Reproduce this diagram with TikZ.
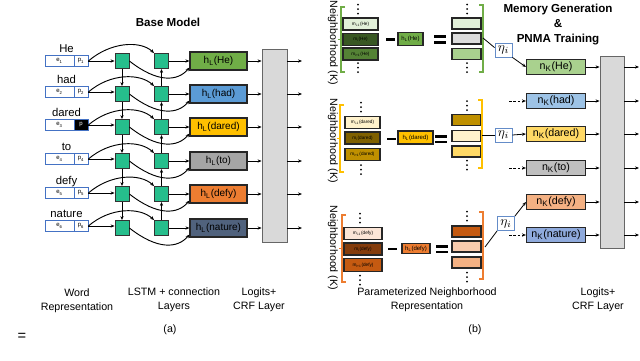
\documentclass[tikz,border=0pt]{standalone}
\usepackage{fontspec}
\setmainfont{Liberation Sans}
\usetikzlibrary{arrows.meta,calc}
\definecolor{lstm}{RGB}{38,190,140}
\definecolor{wblue}{RGB}{68,114,196}
\definecolor{hHe}{RGB}{112,173,71}
\definecolor{hHad}{RGB}{91,155,213}
\definecolor{hDared}{RGB}{255,192,0}
\definecolor{hTo}{RGB}{165,165,165}
\definecolor{hDefy}{RGB}{237,125,49}
\definecolor{hNature}{RGB}{80,98,125}
\definecolor{crfgray}{RGB}{217,217,217}
\definecolor{nHe}{RGB}{169,209,142}
\definecolor{nHad}{RGB}{157,195,230}
\definecolor{nDared}{RGB}{255,217,102}
\definecolor{nTo}{RGB}{191,191,191}
\definecolor{nDefy}{RGB}{244,177,131}
\definecolor{nNature}{RGB}{143,170,220}
\definecolor{etablue}{RGB}{100,140,200}
\definecolor{gA}{RGB}{226,240,217}
\definecolor{gB}{RGB}{56,87,35}
\definecolor{gC}{RGB}{84,130,53}
\definecolor{gR}{RGB}{220,220,220}
\definecolor{yA}{RGB}{255,242,204}
\definecolor{yB}{RGB}{127,96,0}
\definecolor{yC}{RGB}{191,144,0}
\definecolor{oA}{RGB}{251,229,214}
\definecolor{oB}{RGB}{132,60,12}
\definecolor{oC}{RGB}{197,90,17}
\definecolor{oD}{RGB}{248,203,173}
\newcommand\vdts[2]{\fill (#1,{#2-4.5}) circle (0.75pt) (#1,#2) circle (0.75pt) (#1,{#2+4.5}) circle (0.75pt);}
\begin{document}
\begin{tikzpicture}[x=0.75pt,y=-0.75pt,
  wh/.style 2 args={minimum width=#1*0.75pt,minimum height=#2*0.75pt},
  arr/.style={-{Stealth[length=3pt,width=2.4pt]},line width=0.6pt},
  sq/.style={draw=black!80,fill=lstm,wh={14}{15},inner sep=0pt,line width=0.6pt},
  hbox/.style={draw=black!85,line width=0.8pt,wh={57}{18},inner sep=0pt,font=\fontsize{7.5}{8}\selectfont},
  wbox/.style={draw=wblue,line width=0.6pt,inner sep=0pt,font=\fontsize{4.5}{5}\selectfont},
  lbl/.style={font=\fontsize{8}{10.5}\selectfont,inner sep=0pt,align=center},
  ttl/.style={font=\bfseries\fontsize{8.7}{11.25}\selectfont,inner sep=0pt,align=center},
  crf/.style={draw=gray!80!black,fill=crfgray,line width=0.6pt,inner sep=0pt},
  mbox/.style={draw=black!85,line width=0.8pt,inner sep=0pt,wh={35}{12},font=\fontsize{3.5}{4}\selectfont},
  rbox/.style={draw=black!85,line width=0.8pt,inner sep=0pt,wh={29}{11}},
  nbox/.style={draw=black!85,line width=0.8pt,wh={59}{15},inner sep=0pt,font=\fontsize{8}{9}\selectfont},
  eta/.style={draw=etablue,fill=white,line width=0.6pt,wh={17}{14},inner sep=0pt,font=\fontsize{10}{10}\selectfont},
  smallh/.style={draw=black!85,line width=0.8pt,inner sep=0pt,font=\fontsize{4.5}{5}\selectfont},
  opsign/.style={line width=2pt}
]
\useasboundingbox (0,0) rectangle (640,361);

% ---------------- Panel (a) ----------------
\node[ttl] (titleA) at (168,22) {Base Model};
\node[crf,wh={25}{193}] (crfA) at (274.5,145.5) {};

\foreach \i/\Y/\W/\word/\pt/\pf/\ptc/\hc/\hn in {
  1/61/61/He/{p\textsubscript{1}}/white/black/hHe/He,
  2/94/92/had/{p\textsubscript{2}}/white/black/hHad/had,
  3/127/125/dared/p/black/white/hDared/dared,
  4/161/159/to/{p\textsubscript{4}}/white/black/hTo/to,
  5/194/193/defy/{p\textsubscript{5}}/white/black/hDefy/defy,
  6/228/226/nature/{p\textsubscript{6}}/white/black/hNature/nature}{
  \node[lbl,anchor=base,font=\fontsize{8.5}{10}\selectfont] (w\i) at (66.5,{\W-9}) {\word};
  \node[wbox,wh={29}{11}] (e\i) at (59.5,\W) {e\textsubscript{\i}};
  \node[wbox,wh={14}{11},fill=\pf,text=\ptc] (p\i) at (81,\W) {\pt};
  \node[sq] (a\i) at (122,\Y) {};
  \node[sq] (b\i) at (161.5,\Y) {};
  \node[hbox,fill=\hc] (h\i) at (218.5,\Y) {h\textsubscript{L}(\hn)};
  \coordinate (oa\i) at (302,\Y);
  \draw[arr] (p\i.east) -- (p\i.east -| a\i.west);
  \draw[arr,line width=0.7pt] (p\i.east) .. controls +(22,-19) and +(-14,-13) .. (b\i.north west);
  \draw[arr,line width=0.7pt] (a\i.east) .. controls +(28,22) and +(-12,14) .. ($(h\i.south west)+(0,-3)$);
  \draw[arr] (b\i.east) -- (h\i.west);
  \draw[arr] (h\i.east) -- (h\i.east -| crfA.west);
  \draw[arr] (oa\i -| crfA.east) -- (oa\i);
}
\foreach \i/\j in {1/2,2/3,3/4,4/5,5/6}{
  \draw[arr] (a\i.south) -- (a\j.north);
  \draw[arr] (b\j.north) -- (b\i.south);
}
\node[lbl] (labWord) at (77,301) {Word\\Representation};
\node[lbl] (labLSTM) at (174,300) {LSTM + connection\\Layers};
\node[lbl] (labCRFa) at (259,300) {Logits+\\CRF Layer};
\node[lbl] (capA) at (170,330) {(a)};
\node[lbl,font=\fontsize{11}{11}\selectfont] (eqsign) at (22,337) {=};

% ---------------- Panel (b) ----------------
\node[ttl] (titleB) at (558,25) {Memory Generation\\\&\\PNMA Training};
\node[crf,wh={24}{192}] (crfB) at (612,152) {};

% group 1 (He)
\node[lbl,rotate=-90] (nb1) at (333,43) {Neighborhood (K)};
\node[mbox,fill=gA] (m1a) at (360.5,24) {m\textsubscript{i-1}(He)};
\node[mbox,fill=gB] (m1b) at (360.5,39.5) {m\textsubscript{i}(He)};
\node[mbox,fill=gC] (m1c) at (360.5,54) {m\textsubscript{i+1}(He)};
\vdts{358}{9}\vdts{358}{67.5}
\draw[hHe,line width=0.8pt] (345,7) -- (341,7) -- (341,72) -- (345,72) (341,39.5) -- (338,39.5);
\draw[opsign] (386,39.3) -- (395,39.3);
\node[smallh,fill=hHe,wh={25}{13}] (hb1) at (410.5,39) {h\textsubscript{L}(He)};
\draw[opsign] (434,36.3) -- (446,36.3) (434,42.3) -- (446,42.3);
\node[rbox,fill=gA] (r1a) at (466.5,23.5) {};
\node[rbox,fill=gR] (r1b) at (466.5,38.5) {};
\node[rbox,fill=nHe] (r1c) at (466.5,54) {};
\vdts{467}{9}\vdts{467}{67.5}
\draw[hHe,line width=0.8pt] (479,5) -- (483,5) -- (483,72) -- (479,72);
\coordinate (br1) at (483,38);

% group 2 (dared)
\node[lbl,rotate=-90] (nb2) at (333,141) {Neighborhood (K)};
\node[mbox,fill=yA] (m2a) at (362.5,122.5) {m\textsubscript{i-1}(dared)};
\node[mbox,fill=yB] (m2b) at (362.5,138) {m\textsubscript{i}(dared)};
\node[mbox,fill=yC] (m2c) at (362.5,154.5) {m\textsubscript{i+1}(dared)};
\vdts{361}{107}\vdts{361}{169.5}
\draw[hDared,line width=0.8pt] (344,105) -- (340,105) -- (340,172) -- (344,172) (340,138.5) -- (337,138.5);
\draw[opsign] (387,139) -- (396,139);
\node[smallh,fill=hDared,wh={35}{13},line width=1pt] (hb2) at (415.5,137.5) {h\textsubscript{L}(dared)};
\draw[opsign] (435,136.8) -- (447,136.8) (435,142) -- (447,142);
\node[rbox,fill=yC] (r2a) at (466.5,120) {};
\node[rbox,fill=yA] (r2b) at (466.5,136) {};
\node[rbox,fill=nDared] (r2c) at (466.5,151.5) {};
\vdts{467}{105.5}\vdts{467}{165}
\draw[hDared,line width=0.8pt] (478,100) -- (482,100) -- (482,168) -- (478,168);
\coordinate (br2) at (482,135);

% group 3 (defy)
\node[lbl,rotate=-90] (nb3) at (333,248) {Neighborhood (K)};
\node[mbox,fill=oA,wh={38}{12}] (m3a) at (363,233.5) {m\textsubscript{i-1}(defy)};
\node[mbox,fill=oB,wh={38}{12}] (m3b) at (363,249) {m\textsubscript{i}(defy)};
\node[mbox,fill=oC,wh={38}{13}] (m3c) at (363,265) {m\textsubscript{i+1}(defy)};
\vdts{360}{218}\vdts{360}{280}
\draw[hDefy,line width=0.8pt] (346,215) -- (342,215) -- (342,282) -- (346,282) (342,248.5) -- (339,248.5);
\draw[opsign] (388,249) -- (397,249);
\node[smallh,fill=hDefy,wh={28}{10}] (hb3) at (416,248.5) {h\textsubscript{L}(defy)};
\draw[opsign] (436,246.8) -- (448,246.8) (436,252) -- (448,252);
\node[rbox,fill=oC] (r3a) at (466.5,231.5) {};
\node[rbox,fill=oD] (r3b) at (466.5,246.5) {};
\node[rbox,fill=nDefy] (r3c) at (466.5,262.5) {};
\vdts{467}{216}\vdts{467}{277}
\draw[hDefy,line width=0.8pt] (479,212) -- (483,212) -- (483,279) -- (479,279);
\coordinate (br3) at (485,247);

% n_K boxes
\foreach \i/\Y/\c/\t in {1/67/nHe/He,2/101/nHad/had,3/134/nDared/dared,4/168/nTo/to,5/202/nDefy/defy,6/235/nNature/nature}{
  \node[nbox,fill=\c] (nk\i) at (556,\Y) {n\textsubscript{K}(\t)};
  \coordinate (ob\i) at (639,\Y);
  \draw[arr] (nk\i.east) -- (nk\i.east -| crfB.west);
  \draw[arr] (ob\i -| crfB.east) -- (ob\i);
}
\node[eta] (eta1) at (503.5,50) {$\eta_i$};
\node[eta] (eta2) at (503.5,135) {$\eta_i$};
\node[eta] (eta3) at (506,223.5) {$\eta_i$};
\draw[line width=0.6pt] (br1) -- (eta1.165);
\draw[arr] (eta1.south east) -- (nk1.west);
\draw[line width=0.6pt] (br2) -- (eta2.west);
\draw[arr] (eta2.east) -- (nk3.west);
\draw[line width=0.6pt] (br3) -- (eta3.south west);
\draw[arr] (eta3.north east) -- (nk5.west);
\foreach \i in {2,4,6}{
  \coordinate (ds\i) at (509,0 |- nk\i);
  \draw[arr,dash pattern=on 2pt off 1.3pt] (ds\i) -- (nk\i.west);
}
\node[lbl] (labPNR) at (427,300) {Parameterized Neighborhood\\Representation};
\node[lbl] (labCRFb) at (598,300) {Logits+\\CRF Layer};
\node[lbl] (capB) at (475,330) {(b)};
\end{tikzpicture}
\end{document}
